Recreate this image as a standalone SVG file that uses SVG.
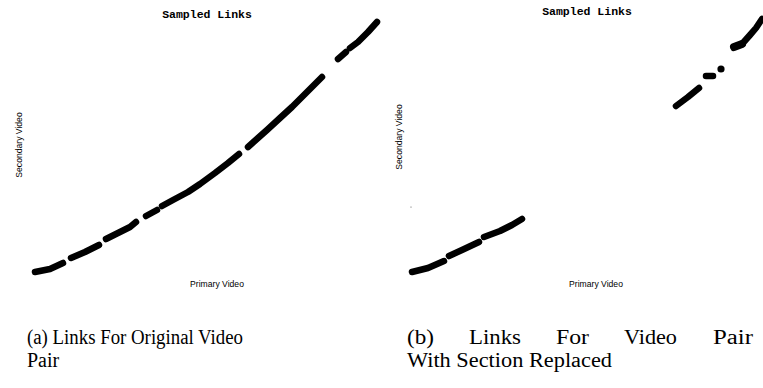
<svg xmlns="http://www.w3.org/2000/svg" width="763" height="388" viewBox="0 0 763 388">
<style>
.t{font-family:"Liberation Mono",monospace;font-weight:bold;font-size:11.5px;fill:#000;text-anchor:middle}
.ax{font-family:"Liberation Sans",Arial,sans-serif;font-size:8.6px;fill:#000;text-anchor:middle}
.cap{font-family:"Liberation Serif","Times New Roman",serif;font-size:20px;fill:#000}
.s{fill:none;stroke:#000;stroke-width:6.5;stroke-linecap:round;stroke-linejoin:round}
</style>
<rect width="763" height="388" fill="#fff"/>
<g id="plot-a">
<text class="t" x="207" y="18">Sampled Links</text>
<text class="ax" x="217" y="287">Primary Video</text>
<text class="ax" transform="translate(22,145) rotate(-90)">Secondary Video</text>
<polyline class="s" points="35,272 50,269 63,263"/>
<polyline class="s" points="71,258 85,252 99,245"/>
<polyline class="s" points="106,239 120,232 130,227 136,222"/>
<polyline class="s" points="146,216 157,210"/>
<polyline class="s" points="162,206 173,200 188,192 200,184 215,173 228,163 239,154"/>
<polyline class="s" points="248,147 258,138 267,130 280,118 292,107 305,94 322,77"/>
<polyline class="s" points="338,59 346,52"/>
<polyline class="s" points="350,48 358,42 368,32 377,22"/>
</g>
<g id="plot-b">
<text class="t" x="587" y="15">Sampled Links</text>
<text class="ax" x="596" y="287">Primary Video</text>
<text class="ax" transform="translate(402,137) rotate(-90)">Secondary Video</text>
<circle cx="411" cy="207" r="0.6" fill="#555"/>
<polyline class="s" points="412,272 428,268 444,261"/>
<polyline class="s" points="449,256 462,250 479,242"/>
<polyline class="s" points="484,237 500,231 512,225 522,219"/>
<polyline class="s" points="676,106 688,97 699,88"/>
<polyline class="s" points="706,76 713,76"/>
<circle cx="721" cy="69" r="3.6" fill="#000"/>
<polyline class="s" style="stroke-width:8" points="734,47 742,44"/>
<polyline class="s" points="742,44 750,35 756,28 762,19"/>
</g>
<g id="captions">
<text class="cap" x="27" y="344" textLength="216" lengthAdjust="spacingAndGlyphs">(a) Links For Original Video</text>
<text class="cap" x="27" y="367">Pair</text>
<text class="cap" x="407" y="344" textLength="27" lengthAdjust="spacingAndGlyphs">(b)</text>
<text class="cap" x="469" y="344" textLength="52" lengthAdjust="spacingAndGlyphs">Links</text>
<text class="cap" x="556" y="344" textLength="33" lengthAdjust="spacingAndGlyphs">For</text>
<text class="cap" x="624" y="344" textLength="53" lengthAdjust="spacingAndGlyphs">Video</text>
<text class="cap" x="713" y="344" textLength="40" lengthAdjust="spacingAndGlyphs">Pair</text>
<text class="cap" x="407" y="367" textLength="205" lengthAdjust="spacingAndGlyphs">With Section Replaced</text>
</g>
</svg>
